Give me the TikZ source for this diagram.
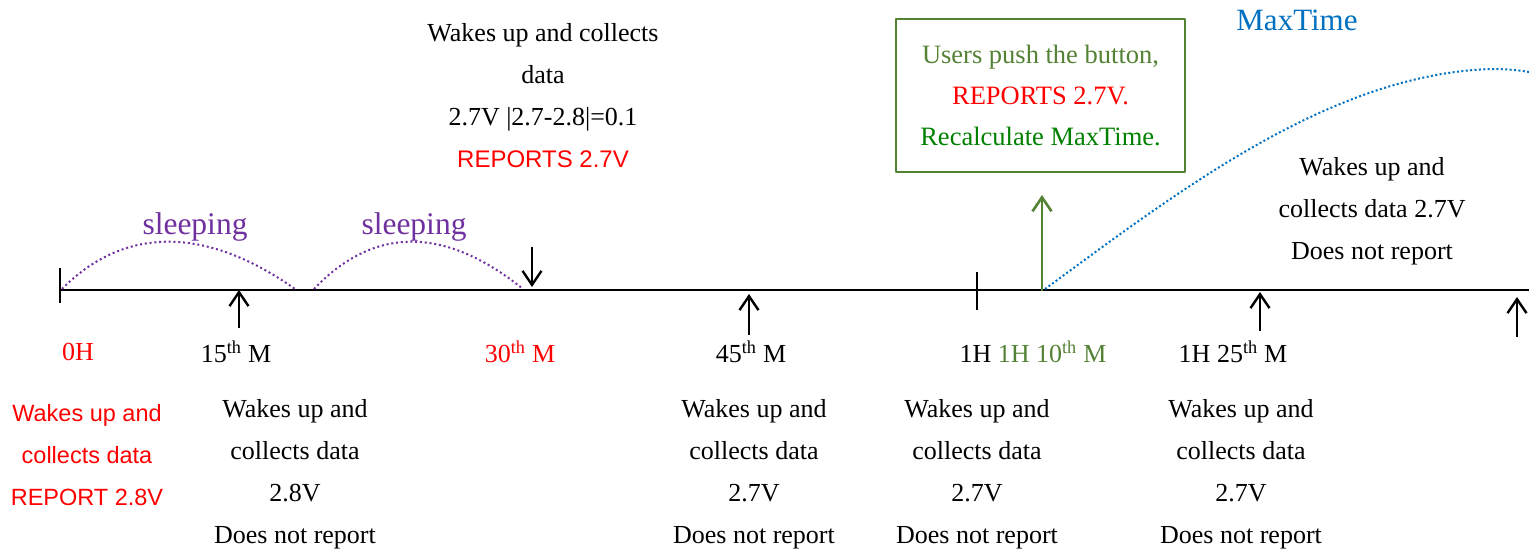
\documentclass[tikz,border=0pt]{standalone}
\usepackage{fontspec}
\setmainfont{Liberation Serif}
\newfontfamily\arialfont{Liberation Sans}
\usetikzlibrary{arrows.meta}
\definecolor{sleepviolet}{RGB}{112,48,160}
\definecolor{olivegreen}{RGB}{84,130,53}
\definecolor{darkgreen}{RGB}{0,128,0}
\definecolor{maxblue}{RGB}{0,112,192}
\begin{document}
\begin{tikzpicture}[x=1pt, y=-1pt, line join=round,
  lbl/.style={font=\fontsize{26}{42}\selectfont, align=center, inner sep=0pt},
  redlbl/.style={font=\arialfont\fontsize{23.5}{42}\selectfont, text=red, align=center, inner sep=0pt},
  wake/.style={-{Straight Barb[length=14pt,width=19pt]}, line width=2.4pt},
  sleepcurve/.style={sleepviolet, line width=2pt, dash pattern=on 2pt off 2.8pt},
  >=stealth]
\useasboundingbox (0,0) rectangle (1529,553);
% timeline
\coordinate (start) at (60,290);
\coordinate (stop) at (1529,290);
\draw[line width=1.8pt] (start) -- (stop);
\draw[line width=1.8pt] (60,268) -- (60,303);
\draw[line width=1.8pt] (977,272) -- (977,310);
% wake up arrows
\coordinate (w15) at (239,290);
\coordinate (w45) at (749,294);
\coordinate (w85) at (1260,292);
\coordinate (w100) at (1517,297);
\coordinate (w30) at (532,287);
\draw[wake] (239,328) -- (w15);
\draw[wake] (749,335) -- (w45);
\draw[wake] (1260,331) -- (w85);
\draw[wake] (1517,337) -- (w100);
\draw[wake] (532,247) -- (w30);
% sleeping
\draw[sleepcurve] (62,289) .. controls (120,230) and (200,222) .. (295,289);
\draw[sleepcurve] (314,289) .. controls (370,230) and (440,222) .. (523,289);
\node[lbl, text=sleepviolet, font=\fontsize{31.5}{36}\selectfont] (sleep1) at (195,227) {sleeping};
\node[lbl, text=sleepviolet, font=\fontsize{31.5}{36}\selectfont] (sleep2) at (414,227) {sleeping};
% time labels
\node[lbl, text=red] (h0) at (78,352) {0H};
\node[lbl] (m15) at (236,352) {15\textsuperscript{th} M};
\node[lbl, text=red] (m30) at (520,352) {30\textsuperscript{th} M};
\node[lbl] (m45) at (751,352) {45\textsuperscript{th} M};
\node[lbl] (m70) at (1033,352) {1H {\color{olivegreen}1H 10\textsuperscript{th} M}};
\node[lbl] (m85) at (1233,352) {1H 25\textsuperscript{th} M};
% what happens
\node[redlbl] (d0) at (87,455) {Wakes up and\\collects data\\REPORT 2.8V};
\node[lbl] (d15) at (295,474) {Wakes up and\\collects data\\2.8V\\Does not report};
\node[lbl] (d45) at (754,474) {Wakes up and\\collects data\\2.7V\\Does not report};
\node[lbl] (d60) at (977,474) {Wakes up and\\collects data\\2.7V\\Does not report};
\node[lbl] (d85) at (1241,474) {Wakes up and\\collects data\\2.7V\\Does not report};
\node[lbl] (d30) at (543,96) {Wakes up and collects\\data\\2.7V |2.7-2.8|=0.1\\{\arialfont\fontsize{24}{42}\selectfont\color{red}REPORTS 2.7V}};
\node[lbl] (d100) at (1372,211) {Wakes up and\\collects data 2.7V\\Does not report};
% button
\node[draw=olivegreen, line width=2pt, minimum width=289pt, minimum height=153pt,
  align=center, font=\fontsize{26.5}{41}\selectfont, inner sep=0pt] (button) at (1040.5,95.5)
  {{\color{olivegreen}Users push the button,}\\{\color{red}REPORTS 2.7V.}\\{\color{darkgreen}Recalculate MaxTime.}};
\coordinate (push) at (1042,291);
\draw[-{Straight Barb[length=14pt,width=19pt]}, olivegreen, line width=2.6pt] (push) -- (1042,195);
% max time
\node[lbl, text=maxblue, font=\fontsize{31}{36}\selectfont] (maxtime) at (1297,20) {MaxTime};
\draw[maxblue, line width=2pt, dash pattern=on 2pt off 2.4pt] (1045,289) .. controls (1180,190) and (1330,75) .. (1490,69) .. controls (1505,69) and (1518,70) .. (1529,72);
\end{tikzpicture}
\end{document}
